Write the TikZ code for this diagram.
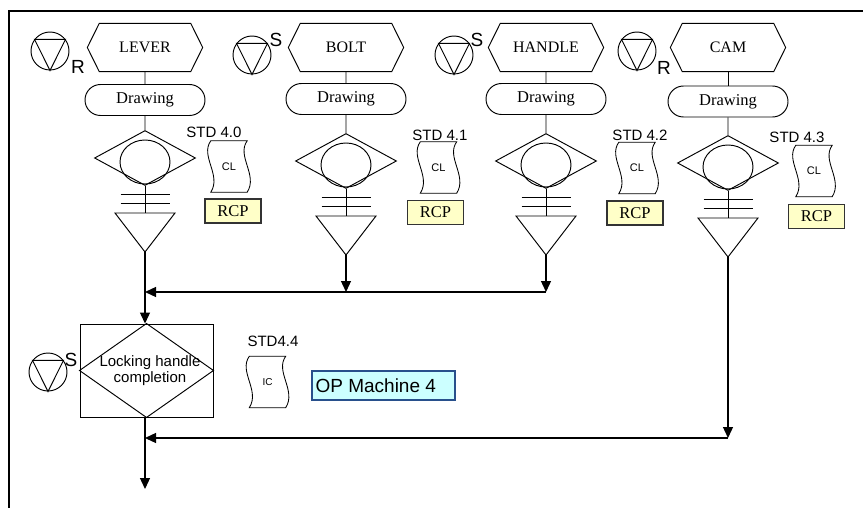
\documentclass[tikz,border=0pt]{standalone}
\usepackage{fontspec}
\setmainfont{Liberation Serif}
\setsansfont{Liberation Sans}
\usetikzlibrary{arrows.meta,shapes.geometric,shapes.misc}

\definecolor{rcpfill}{RGB}{255,255,200}
\definecolor{opfill}{RGB}{204,255,255}
\definecolor{opdraw}{RGB}{40,80,140}

\tikzset{
 shp/.style={draw=black, line width=0.95pt},
 hexlab/.style={minimum width=115pt, minimum height=48pt, inner sep=0pt, font=\fontsize{16}{16}\selectfont},
 drwbox/.style={draw, line width=0.95pt, rounded rectangle, minimum width=120pt, minimum height=31pt, inner sep=0pt, font=\fontsize{16.5}{16.5}\selectfont},
 diam/.style={draw, line width=0.95pt, diamond, minimum width=101pt, minimum height=55pt, inner sep=0pt},
 eye/.style={draw, line width=0.95pt, ellipse, minimum width=50pt, minimum height=44pt, inner sep=0pt},
 docnode/.style={minimum width=36pt, minimum height=51pt, inner sep=0pt, font=\sffamily\fontsize{11}{11}\selectfont},
 stdlab/.style={font=\sffamily\fontsize{15}{15}\selectfont, inner sep=0pt},
 rcpbox/.style={draw=black!80, line width=1.1pt, fill=rcpfill, minimum width=56pt, minimum height=24pt, inner sep=0pt, font=\fontsize{16.5}{16.5}\selectfont},
 symb/.style={draw, circle, line width=0.95pt, minimum size=38pt, inner sep=0pt},
 symlet/.style={font=\sffamily\fontsize{19}{19}\selectfont, inner sep=0pt},
 arr/.style={line width=1.3pt, -{Triangle[length=11pt,width=10pt]}},
 conn/.style={line width=1.3pt},
}

\newcommand{\wpart}[5]{%
 \node[hexlab] (hex#1) at (#2,47.5) {#4};
 \draw[shp] (hex#1.west) -- ([xshift=12pt]hex#1.north west) -- ([xshift=-12pt]hex#1.north east) -- (hex#1.east) -- ([xshift=-12pt]hex#1.south east) -- ([xshift=12pt]hex#1.south west) -- cycle;
 \node[drwbox] (drw#1) at (#2,100+#5) {Drawing};
 \node[diam] (dia#1) at (#2,158+#3) {};
 \node[eye] (eye#1) at (#2,162+#3) {};
 \coordinate (bara#1) at (#2,194+#3);
 \coordinate (barb#1) at (#2,203+#3);
 \coordinate (tt#1) at (#2,213+#3);
 \coordinate (ta#1) at (#2,252+#3);
 \draw[shp] ([xshift=-24.5pt]bara#1) -- ([xshift=24.5pt]bara#1);
 \draw[shp] ([xshift=-24.5pt]barb#1) -- ([xshift=24.5pt]barb#1);
 \draw[shp] ([xshift=-30pt]tt#1) -- ([xshift=30pt]tt#1) -- (ta#1) -- cycle;
 \draw[shp] (hex#1) -- (drw#1);
 \draw[shp] (drw#1) -- (dia#1);
 \draw[shp] (dia#1.south) -- (tt#1);
}

\newcommand{\wdoc}[4]{%
 \node[docnode] (doc#1) at (#2,#3) {#4};
 \draw[black, line width=0.85pt] (doc#1.north west) .. controls ([xshift=-11pt,yshift=-15pt]doc#1.north west) and ([xshift=11pt,yshift=17pt]doc#1.south west) .. (doc#1.south west) -- (doc#1.south east) .. controls ([xshift=11pt,yshift=17pt]doc#1.south east) and ([xshift=-11pt,yshift=-15pt]doc#1.north east) .. (doc#1.north east) -- cycle;
}

\newcommand{\wsym}[6]{%
 \node[symb] (sym#1) at (#2,#3) {};
 \draw[shp] (sym#1.143) -- (sym#1.37) -- (sym#1.south) -- cycle;
 \node[symlet] (let#1) at (#5,#6) {#4};
}

\begin{document}
\begin{tikzpicture}[x=1pt,y=-1pt]
\useasboundingbox (0,0) rectangle (863,508);
\draw[line width=2pt] (9,508) -- (9,11.5) -- (863,11.5);

% columns
\wpart{1}{145}{0}{LEVER}{0}
\wpart{2}{346}{3}{BOLT}{-1}
\wpart{3}{546}{3}{HANDLE}{-1}
\wpart{4}{728}{5}{CAM}{1.5}

% symbols
\wsym{1}{50}{51}{R}{78}{67}
\wsym{2}{252}{55}{S}{276}{40}
\wsym{3}{454}{55}{S}{477}{40}
\wsym{4}{637}{51}{R}{664}{68}
\wsym{5}{48}{372}{S}{71}{360}

% standards
\node[stdlab] (std1) at (214,132) {STD 4.0};
\node[stdlab] (std2) at (440,135) {STD 4.1};
\node[stdlab] (std3) at (640,135) {STD 4.2};
\node[stdlab] (std4) at (797,137) {STD 4.3};
\node[stdlab] (std5) at (273,341) {STD4.4};

\wdoc{1}{229}{166.5}{CL}
\wdoc{2}{438.5}{167.5}{CL}
\wdoc{3}{637}{168}{CL}
\wdoc{4}{814}{171}{CL}
\wdoc{5}{267.5}{382}{\fontsize{10}{10}\selectfont IC}

\node[rcpbox] (rcp1) at (233,211) {RCP};
\node[rcpbox] (rcp2) at (435.5,212.5) {RCP};
\node[rcpbox] (rcp3) at (635,213) {RCP};
\node[rcpbox] (rcp4) at (816.5,216.5) {RCP};

% locking handle completion
\node[draw, line width=0.95pt, minimum width=133pt, minimum height=93pt, inner sep=0pt] (lockbox) at (146.5,370.5) {};
\draw[shp] (lockbox.north) -- (lockbox.east) -- (lockbox.south) -- (lockbox.west) -- cycle;
\node[font=\sffamily\fontsize{15}{16}\selectfont, align=center, inner sep=0pt] (locktxt) at (150,371) {Locking handle\\completion};

% OP machine
\node[draw=opdraw, line width=1.2pt, fill=opfill, minimum width=143pt, minimum height=29pt, inner sep=0pt] (opbox) at (383.5,385.5) {};
\node[font=\sffamily\fontsize{19}{19}\selectfont, inner sep=0pt, anchor=west] (op) at ([xshift=4pt]opbox.west) {OP Machine 4};

% connectors
\coordinate (j1) at (145,292);
\coordinate (j2) at (346,292);
\coordinate (j3) at (546,292);
\coordinate (j4) at (728,438);
\coordinate (j5) at (145,438);
\coordinate (fin) at (145,489);
\draw[arr] (ta2) -- (j2);
\draw[arr] (ta3) -- (j3);
\draw[arr] (j3) -- (j1);
\draw[arr] (ta1) -- (ta1 |- lockbox.north);
\draw[arr] (ta4) -- (j4);
\draw[arr] (j4) -- (j5);
\draw[arr] (lockbox.south -| ta1) -- (fin);
\end{tikzpicture}
\end{document}
